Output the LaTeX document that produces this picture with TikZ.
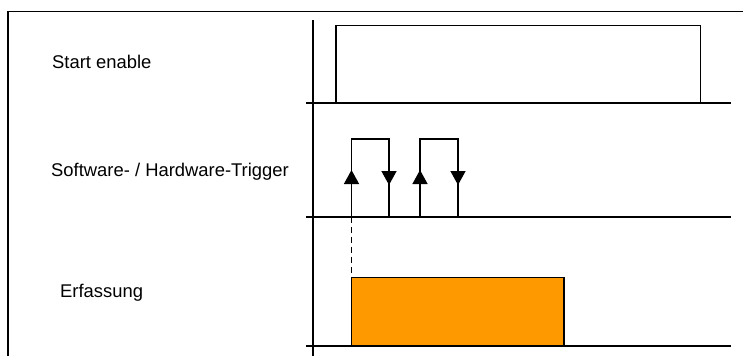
\documentclass[tikz,border=0pt]{standalone}
\usepackage{fontspec}
\setmainfont{Liberation Sans}
\usetikzlibrary{arrows.meta}
\definecolor{fillorange}{HTML}{FF9900}
\begin{document}
\begin{tikzpicture}[x=1pt,y=-1pt,
  frameline/.style={line width=1.3pt},
  baseline/.style={line width=2pt},
  sigline/.style={line width=1.4pt},
  lbl/.style={anchor=base west,inner sep=0pt,font=\fontsize{18.4}{21}\selectfont},
  arrowup/.style={sigline,-{Triangle[width=15pt,length=14pt]}},
]
\useasboundingbox (0,0) rectangle (743,356);
% frame
\draw[frameline] (8,356) -- (8,11.7) -- (743,11.7);
% vertical axis
\draw[frameline] (313,20) -- (313,356);
% baselines
\draw[baseline] (306,102.5) -- (731,102.5);
\draw[baseline] (306,216.5) -- (731,216.5);
\draw[baseline] (306,345.5) -- (731,345.5);
% labels
\node[lbl] (l1) at (52,68.5) {Start enable};
\node[lbl] (l2) at (51,176.7) {Software- / Hardware-Trigger};
\node[lbl] (l3) at (60,297.5) {Erfassung};
% start enable pulse
\draw[sigline] (336,102.5) -- (336,25.7) -- (700.5,25.7) -- (700.5,102.5);
% trigger pulses
\foreach \a/\b in {351.5/389, 420/458}{
  \draw[sigline] (\a,216.5) -- (\a,139) -- (\b,139) -- (\b,216.5);
  \draw[arrowup] (\a,216.5) -- (\a,170);
  \draw[arrowup] (\b,139) -- (\b,185);
}
% dashed link
\draw[sigline,dash pattern=on 6pt off 4pt] (351.5,216.5) -- (351.5,277.7);
% acquisition box
\draw[fill=fillorange,line width=1.5pt] (351.5,277.7) rectangle (564,345.5);
\end{tikzpicture}
\end{document}
